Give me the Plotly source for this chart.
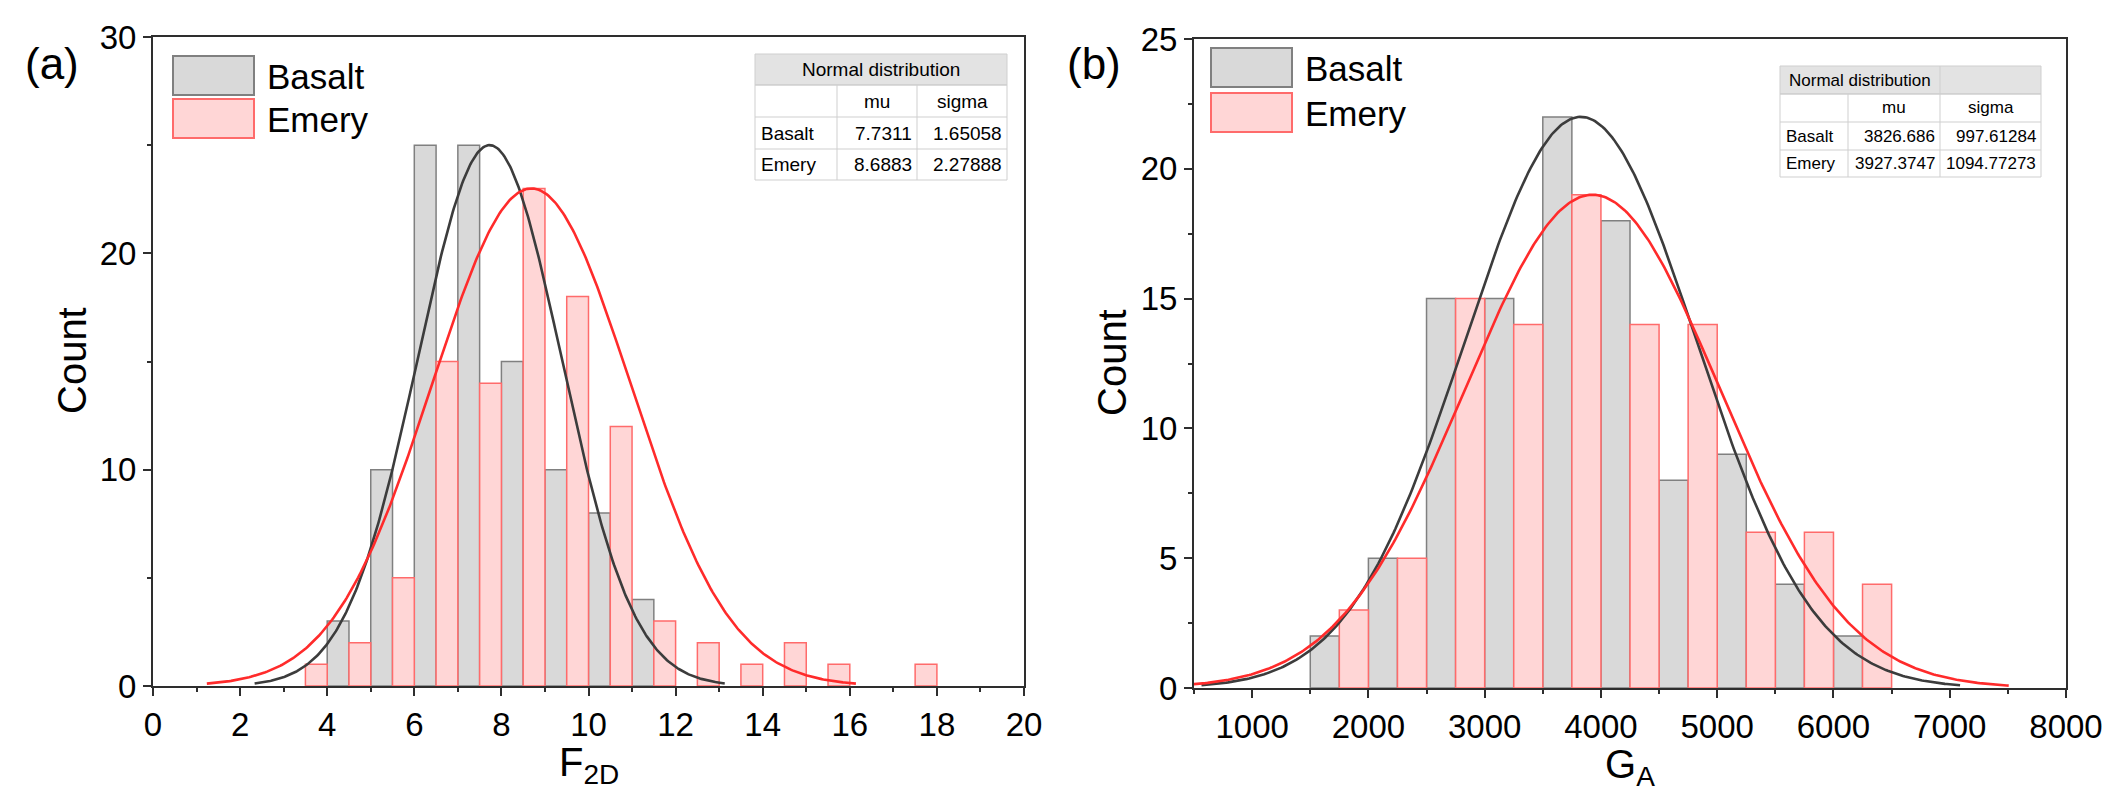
import numpy as np
import plotly.graph_objects as go

W, H = 2123, 806
FONT = "Liberation Sans, Arial, Helvetica, sans-serif"

# ---------------- data ----------------
# Panel (a): F2D histograms (bin left edges, width 0.5)
a_bin_w = 0.5
a_basalt_left = [4, 5, 6, 7, 8, 9, 10, 11]
a_basalt_cnt = [3, 10, 25, 25, 15, 10, 8, 4]
a_emery_left = [3.5, 4.5, 5.5, 6.5, 7.5, 8.5, 9.5, 10.5, 11.5, 12.5, 13.5, 14.5, 15.5, 17.5]
a_emery_cnt = [1, 2, 5, 15, 14, 23, 18, 12, 3, 2, 1, 2, 1, 1]
a_mu = {"Basalt": 7.7311, "Emery": 8.6883}
a_sigma = {"Basalt": 1.65058, "Emery": 2.27888}
a_mu_txt = {"Basalt": "7.7311", "Emery": "8.6883"}
a_sigma_txt = {"Basalt": "1.65058", "Emery": "2.27888"}
a_peak = {"Basalt": 25, "Emery": 23}

# Panel (b): GA histograms (bin left edges, width 250)
b_bin_w = 250
b_basalt_left = [1500, 2000, 2500, 3000, 3500, 4000, 4500, 5000, 5500, 6000]
b_basalt_cnt = [2, 5, 15, 15, 22, 18, 8, 9, 4, 2]
b_emery_left = [1750, 2250, 2750, 3250, 3750, 4250, 4750, 5250, 5750, 6250]
b_emery_cnt = [3, 5, 15, 14, 19, 14, 14, 6, 6, 4]
b_mu = {"Basalt": 3826.686, "Emery": 3927.3747}
b_sigma = {"Basalt": 997.61284, "Emery": 1094.77273}
b_mu_txt = {"Basalt": "3826.686", "Emery": "3927.3747"}
b_sigma_txt = {"Basalt": "997.61284", "Emery": "1094.77273"}
b_peak = {"Basalt": 22, "Emery": 19}

series = ["Basalt", "Emery"]
CURVE_SPAN = 3.27  # curve drawn over mu +/- span*sigma

# ---------------- styles ----------------
fill = {"Basalt": "#d9d9d9", "Emery": "#ffd6d6"}
edge = {"Basalt": "#808080", "Emery": "#ff6b6b"}
curve = {"Basalt": "#3c3c3c", "Emery": "#ff2b2b"}
AXC = "#2e2e2e"


def px(x):
    return x / W


def py(y):
    return 1 - y / H


fig = go.Figure()


def add_panel(xa, ya, bw, data, mu, sigma, peak):
    for s in series:
        left, cnt = data[s]
        fig.add_trace(go.Bar(
            x=[l + bw / 2 for l in left], y=cnt, width=bw,
            marker=dict(color=fill[s], line=dict(color=edge[s], width=1.5)),
            xaxis=xa, yaxis=ya, showlegend=False, name=s))
    for s in series:
        xs = np.linspace(mu[s] - CURVE_SPAN * sigma[s], mu[s] + CURVE_SPAN * sigma[s], 400)
        ys = peak[s] * np.exp(-0.5 * ((xs - mu[s]) / sigma[s]) ** 2)
        fig.add_trace(go.Scatter(
            x=xs, y=ys, mode="lines", line=dict(color=curve[s], width=2.6),
            xaxis=xa, yaxis=ya, showlegend=False, name=s + " fit"))


add_panel("x", "y", a_bin_w,
          {"Basalt": (a_basalt_left, a_basalt_cnt), "Emery": (a_emery_left, a_emery_cnt)},
          a_mu, a_sigma, a_peak)
add_panel("x2", "y2", b_bin_w,
          {"Basalt": (b_basalt_left, b_basalt_cnt), "Emery": (b_emery_left, b_emery_cnt)},
          b_mu, b_sigma, b_peak)

tickfont = dict(family=FONT, size=33, color="black")


def axis(domain, rng, dtick, mdtick, anchor, tick0=0):
    return dict(domain=domain, range=rng, dtick=dtick, tick0=tick0, anchor=anchor,
                showline=True, linecolor=AXC, linewidth=2, mirror=True,
                ticks="outside", ticklen=8, tickwidth=2, tickcolor=AXC,
                minor=dict(dtick=mdtick, tick0=tick0, ticks="outside", ticklen=4,
                           tickwidth=2, tickcolor=AXC),
                showgrid=False, zeroline=False, tickfont=tickfont, automargin=False,
                fixedrange=True)


# plot areas (pixels)
A = dict(x0=153, x1=1024, y0=37, y1=686)
B = dict(x0=1194, x1=2066, y0=39, y1=688)

fig.update_layout(
    width=W, height=H, margin=dict(l=0, r=0, t=0, b=0),
    paper_bgcolor="white", plot_bgcolor="white", barmode="overlay",
    xaxis=axis([px(A["x0"]), px(A["x1"])], [0, 20], 2, 1, "y"),
    yaxis=axis([py(A["y1"]), py(A["y0"])], [0, 30], 10, 5, "x"),
    xaxis2=axis([px(B["x0"]), px(B["x1"])], [500, 8000], 1000, 500, "y2"),
    yaxis2=axis([py(B["y1"]), py(B["y0"])], [0, 25], 5, 2.5, "x2"),
)

ann = []
shapes = []


def text(x, y, t, size, xanchor="center", yanchor="middle", angle=0, color="black"):
    ann.append(dict(x=px(x), y=py(y), xref="paper", yref="paper", text=t, showarrow=False,
                    xanchor=xanchor, yanchor=yanchor, textangle=angle,
                    font=dict(family=FONT, size=size, color=color)))


def rect(x0, y0, x1, y1, fc, lc, lw=1):
    shapes.append(dict(type="rect", xref="paper", yref="paper",
                       x0=px(x0), x1=px(x1), y0=py(y1), y1=py(y0),
                       fillcolor=fc, line=dict(color=lc, width=lw), layer="above"))


def line(x0, y0, x1, y1, lc, lw=1):
    shapes.append(dict(type="line", xref="paper", yref="paper",
                       x0=px(x0), x1=px(x1), y0=py(y0), y1=py(y1),
                       line=dict(color=lc, width=lw), layer="above"))


# axis titles and panel labels
text(72, 361, "Count", 40, angle=-90)
text(1112, 363, "Count", 40, angle=-90)
text(589, 765, "F<sub>2D</sub>", 40)
text(1630, 767, "G<sub>A</sub>", 40)
text(52, 64, "(a)", 44)
text(1094, 64, "(b)", 44)

# legends
for (bx, tx, rows) in [(173, 265, [(56, 95), (99, 138)]), (1211, 1303, [(48, 87), (93, 132)])]:
    for s, (y0, y1) in zip(series, rows):
        rect(bx, y0, bx + 81, y1, fill[s], edge[s], 2)
        text(tx, (y0 + y1) / 2 + 1, s, 35, xanchor="left")

# tables
GRID = "#cfcfcf"
HEAD = "#e3e3e3"


def table(cols, rows, mu_t, sig_t, merged3, fs):
    c0, c1, c2, c3 = cols
    r0, r1, r2, r3, r4 = rows
    rect(c0, r0, c3, r1, HEAD, GRID, 1)
    rect(c0, r1, c3, r4, "white", GRID, 1)
    for r in (r2, r3):
        line(c0, r, c3, r, GRID, 1)
    line(c1, r1, c1, r4, GRID, 1)
    line(c2, r1, c2, r4, GRID, 1)
    line(c0, r1, c3, r1, GRID, 1)
    if merged3:
        text((c0 + c3) / 2, (r0 + r1) / 2, "Normal distribution", fs)
    else:
        line(c2, r0, c2, r1, GRID, 1)
        text((c0 + c2) / 2, (r0 + r1) / 2, "Normal distribution", fs)
    text((c1 + c2) / 2, (r1 + r2) / 2, "mu", fs)
    text((c2 + c3) / 2, (r1 + r2) / 2, "sigma", fs)
    for s, (ya, yb) in zip(series, [(r2, r3), (r3, r4)]):
        ym = (ya + yb) / 2
        text(c0 + 4, ym, s, fs, xanchor="left")
        text(c2 - 3, ym, mu_t[s], fs, xanchor="right")
        text(c3 - 3, ym, sig_t[s], fs, xanchor="right")


table((755, 837, 917, 1007), (54, 85, 117, 149, 180), a_mu_txt, a_sigma_txt, True, 19)
table((1780, 1848, 1940, 2041), (66, 94, 122, 150, 177), b_mu_txt, b_sigma_txt, False, 17)

fig.update_layout(annotations=ann, shapes=shapes)
fig.write_html("out.html")
